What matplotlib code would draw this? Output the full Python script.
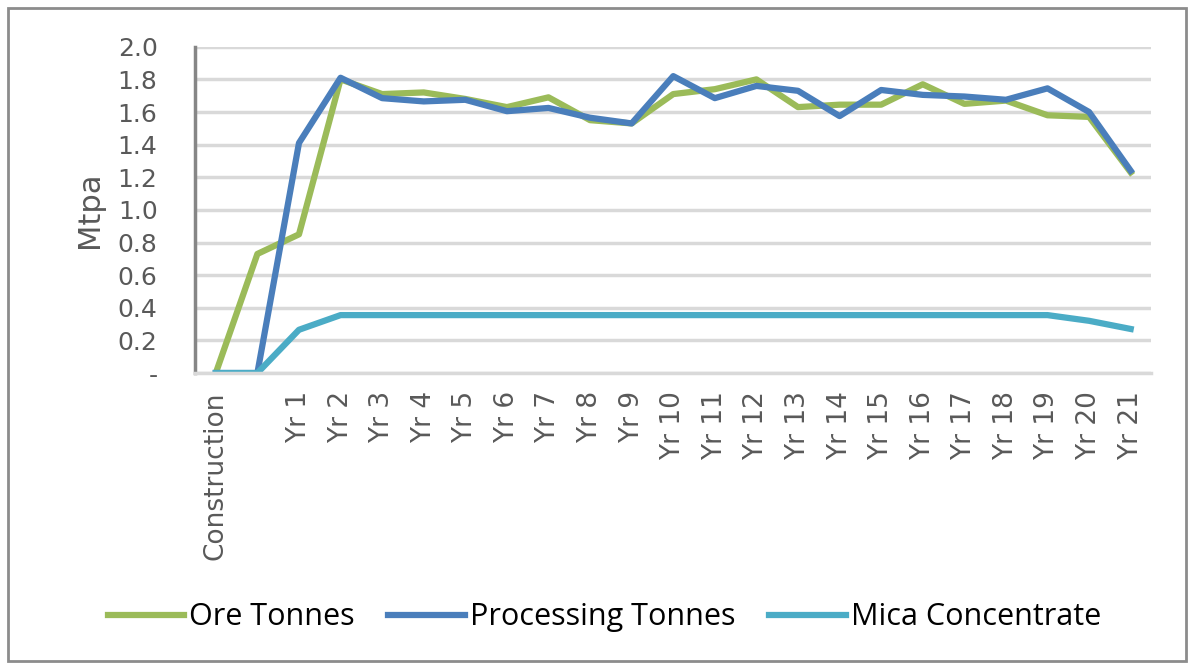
import matplotlib.pyplot as plt
from matplotlib.patches import Rectangle

categories = ['Construction', '', 'Yr 1', 'Yr 2', 'Yr 3', 'Yr 4', 'Yr 5', 'Yr 6', 'Yr 7',
              'Yr 8', 'Yr 9', 'Yr 10', 'Yr 11', 'Yr 12', 'Yr 13', 'Yr 14', 'Yr 15',
              'Yr 16', 'Yr 17', 'Yr 18', 'Yr 19', 'Yr 20', 'Yr 21']
ore = [0, 0.73, 0.85, 1.80, 1.71, 1.72, 1.68, 1.63, 1.69, 1.55, 1.53, 1.71, 1.74,
       1.80, 1.63, 1.645, 1.645, 1.77, 1.65, 1.67, 1.58, 1.57, 1.23]
processing = [0, 0, 1.41, 1.81, 1.685, 1.665, 1.675, 1.605, 1.625, 1.565, 1.53, 1.82, 1.685,
              1.76, 1.73, 1.575, 1.735, 1.705, 1.695, 1.675, 1.745, 1.60, 1.24]
mica = [0, 0, 0.265, 0.355, 0.355, 0.355, 0.355, 0.355, 0.355, 0.355, 0.355, 0.355, 0.355,
        0.355, 0.355, 0.355, 0.355, 0.355, 0.355, 0.355, 0.355, 0.32, 0.27]
yticks = [0, 0.2, 0.4, 0.6, 0.8, 1.0, 1.2, 1.4, 1.6, 1.8, 2.0]

plt.rcParams['font.family'] = ['DejaVu Sans']
grey = '#595959'

fig = plt.figure(figsize=(11.92, 6.68), dpi=100)
fig.patches.append(Rectangle((0.007, 0.01), 0.988, 0.978, transform=fig.transFigure,
                             fill=False, edgecolor='#8c8c8c', linewidth=2))
ax = fig.add_axes([0.1636, 0.4416, 0.8024, 0.4884])

x = range(len(categories))
ax.plot(x, ore, color='#9BBB59', linewidth=4.5, label='Ore Tonnes', solid_joinstyle='round')
ax.plot(x, processing, color='#4A7EBB', linewidth=4.5, label='Processing Tonnes', solid_joinstyle='round')
ax.plot(x, mica, color='#4BACC6', linewidth=4.5, label='Mica Concentrate', solid_joinstyle='round')

ax.set_xlim(-0.5, len(categories) - 0.5)
ax.set_ylim(0, 2.0)
ax.set_yticks(yticks)
ax.set_yticklabels(['-' if v == 0 else f'{v:.1f}' for v in yticks], fontsize=18, color=grey)
ax.set_xticks(list(x))
ax.set_xticklabels(categories, rotation=90, fontsize=19, color=grey, va='top')
ax.tick_params(axis='y', length=0, pad=27)
ax.tick_params(axis='x', length=0, pad=13)
ax.grid(axis='y', color='#d9d9d9', linewidth=2.5)
ax.set_axisbelow(True)
for s in ['top', 'right']:
    ax.spines[s].set_visible(False)
ax.spines['left'].set_color('#868686')
ax.spines['left'].set_linewidth(2.5)
ax.spines['bottom'].set_color('#d9d9d9')
ax.spines['bottom'].set_linewidth(2.5)
ax.set_ylabel('Mtpa', fontsize=22, color=grey)
ax.yaxis.set_label_coords(-0.095, 0.5)

fig.legend(loc='center', bbox_to_anchor=(0.507, 0.076), ncol=3, frameon=False,
           prop={'family': ['Open Sans', 'DejaVu Sans'], 'size': 22},
           handlelength=2.5, handletextpad=0.17, columnspacing=1.1)

fig.savefig('out.png', dpi=100)
